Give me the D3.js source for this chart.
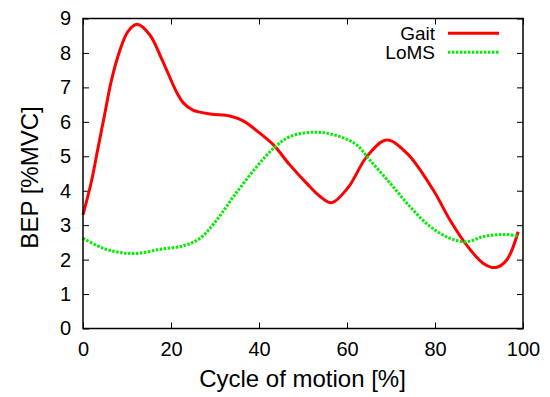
<!DOCTYPE html>
<html>
<head>
<meta charset="utf-8">
<script src="https://cdn.jsdelivr.net/npm/d3@7"></script>
<style>
  body { margin: 0; background: #fff; }
  svg { font-family: "Liberation Sans", Arial, sans-serif; }
  .tick text { font-size: 20px; fill: #000; }
</style>
</head>
<body>
<svg id="chart" width="550" height="397"></svg>
<script>
  // values
  const gaitX = [0, 1.9, 3.4, 4.9, 6.4, 8.3, 10.2, 12.3, 15.2, 17.8, 21.4, 22.8, 25, 28.9, 33.4, 36.5, 40.2, 43.3, 47, 50.8, 53.9, 56.5, 60.3, 64.5, 69, 73.6, 79.6, 83.4, 87.2, 91, 93.8, 96.3, 98.9];
  const gaitY = [3.3, 4.26, 5.23, 6.2, 7.17, 8.04, 8.62, 8.83, 8.52, 7.85, 6.83, 6.55, 6.34, 6.23, 6.17, 6.02, 5.67, 5.33, 4.75, 4.22, 3.83, 3.65, 4.1, 4.99, 5.47, 5.09, 4.02, 3.15, 2.42, 1.89, 1.77, 1.99, 2.81];
  const lomsX = [0, 4.6, 8.4, 12.2, 17.5, 22.8, 26.6, 30.4, 34.2, 39.5, 43.3, 47, 53.1, 58.4, 62.2, 65.2, 69.8, 74.3, 78.9, 83.4, 87.2, 91, 95.5, 98.9];
  const lomsY = [2.62, 2.33, 2.21, 2.18, 2.3, 2.4, 2.62, 3.15, 3.83, 4.7, 5.23, 5.57, 5.7, 5.57, 5.33, 4.89, 4.22, 3.54, 2.96, 2.62, 2.52, 2.67, 2.73, 2.69];
  const xTicks = [0, 20, 40, 60, 80, 100];
  const yTicks = [0, 1, 2, 3, 4, 5, 6, 7, 8, 9];

  const series = [
    {name: 'Gait', xs: gaitX, ys: gaitY, color: '#ff0000', dash: null},
    {name: 'LoMS', xs: lomsX, ys: lomsY, color: '#00ee00', dash: '2.5,1.5'}
  ];

  const margin = {left: 83, right: 27, top: 18.5, bottom: 68.5};
  const width = 550, height = 397;
  const svg = d3.select('#chart');

  const x = d3.scaleLinear().domain([0, 100]).range([margin.left, width - margin.right]);
  const y = d3.scaleLinear().domain([0, 9]).range([height - margin.bottom, margin.top]);

  // axes, gnuplot style: ticks inside, mirrored
  svg.append('g')
    .attr('transform', `translate(0,${y(0)})`)
    .call(d3.axisBottom(x).tickValues(xTicks).tickSize(-6).tickPadding(13))
    .call(g => g.select('.domain').remove());
  svg.append('g')
    .attr('transform', `translate(0,${y(9)})`)
    .call(d3.axisTop(x).tickValues(xTicks).tickSize(-6).tickFormat(''))
    .call(g => g.select('.domain').remove());
  svg.append('g')
    .attr('transform', `translate(${x(0)},0)`)
    .call(d3.axisLeft(y).tickValues(yTicks).tickSize(-6).tickPadding(12))
    .call(g => g.select('.domain').remove());
  svg.append('g')
    .attr('transform', `translate(${x(100)},0)`)
    .call(d3.axisRight(y).tickValues(yTicks).tickSize(-6).tickFormat(''))
    .call(g => g.select('.domain').remove());

  svg.selectAll('.tick line').attr('stroke', '#000').attr('stroke-width', 1);

  const line = d3.line()
    .x(d => x(d[0]))
    .y(d => y(d[1]))
    .curve(d3.curveCatmullRom.alpha(0.5));

  series.forEach(s => {
    svg.append('path')
      .datum(d3.zip(s.xs, s.ys))
      .attr('fill', 'none')
      .attr('stroke', s.color)
      .attr('stroke-width', 3)
      .attr('stroke-dasharray', s.dash)
      .attr('d', line);
  });

  // frame
  svg.append('rect')
    .attr('x', x(0)).attr('y', y(9))
    .attr('width', x(100) - x(0)).attr('height', y(0) - y(9))
    .attr('fill', 'none').attr('stroke', '#000').attr('stroke-width', 1.5);

  // legend
  const legend = svg.append('g');
  series.forEach((s, i) => {
    const ly = 33.3 + i * 19;
    legend.append('text')
      .attr('x', 435).attr('y', ly + 6.5)
      .attr('text-anchor', 'end').attr('font-size', 19)
      .text(s.name);
    legend.append('line')
      .attr('x1', 448).attr('x2', 499).attr('y1', ly).attr('y2', ly)
      .attr('stroke', s.color).attr('stroke-width', 3)
      .attr('stroke-dasharray', s.dash);
  });

  // axis titles
  svg.append('text')
    .attr('x', 302.5).attr('y', 386.7)
    .attr('text-anchor', 'middle').attr('font-size', 24)
    .text('Cycle of motion [%]');
  svg.append('text')
    .attr('transform', 'translate(38.3,177.5) rotate(-90)')
    .attr('text-anchor', 'middle').attr('font-size', 24)
    .text('BEP [%MVC]');
</script>
</body>
</html>
